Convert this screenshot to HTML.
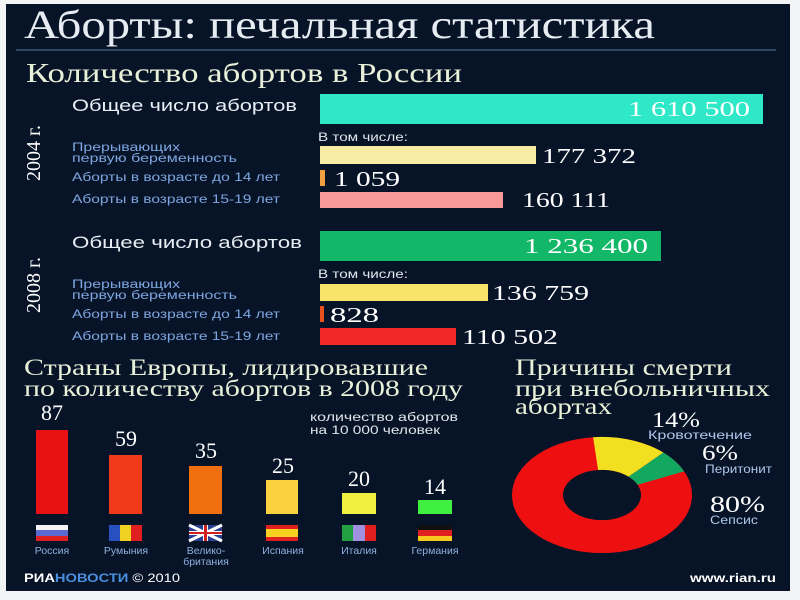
<!DOCTYPE html>
<html><head><meta charset="utf-8"><style>
body{margin:0;background:#fff;}
svg{display:block}
.s{font-family:"Liberation Serif","Noto Serif CJK SC",serif;}
.a{font-family:"Liberation Sans","Noto Sans CJK SC",sans-serif;}
</style></head><body>
<svg width="800" height="600" viewBox="0 0 800 600">
<rect x="0" y="0" width="800" height="600" fill="#f2f4f6"/>
<rect x="6" y="4" width="784" height="587" fill="#071427"/>
<text x="24" y="38" class="s" font-size="40" fill="#e6ecf2" textLength="631" lengthAdjust="spacingAndGlyphs">Аборты: печальная статистика</text>
<line x1="16" y1="50" x2="776" y2="50" stroke="#5a7aa0" stroke-width="1"/>
<text x="26" y="82" class="s" font-size="27" fill="#e8f0d8" textLength="436" lengthAdjust="spacingAndGlyphs">Количество абортов в России</text>

<text transform="translate(40,153) rotate(-90)" text-anchor="middle" class="s" font-size="20" fill="#fff">2004 г.</text>
<text x="72" y="111" class="a" font-size="17" fill="#e8eef4" textLength="225" lengthAdjust="spacingAndGlyphs">Общее число абортов</text>
<rect x="320" y="94" width="443" height="30" fill="#2ee8c8"/>
<text x="628" y="116" class="s" font-size="21" fill="#fff" textLength="122" lengthAdjust="spacingAndGlyphs">1 610 500</text>
<text x="318" y="141" class="a" font-size="11.5" fill="#e0e6ec" textLength="90" lengthAdjust="spacingAndGlyphs">В том числе:</text>
<g class="a" font-size="11.5" fill="#7fa6e0">
<text x="72" y="151" textLength="108" lengthAdjust="spacingAndGlyphs">Прерывающих</text>
<text x="72" y="162" textLength="165" lengthAdjust="spacingAndGlyphs">первую беременность</text>
<text x="72" y="181" textLength="208" lengthAdjust="spacingAndGlyphs">Аборты в возрасте до 14 лет</text>
<text x="72" y="203" textLength="208" lengthAdjust="spacingAndGlyphs">Аборты в возрасте 15-19 лет</text>
</g>
<rect x="320" y="146" width="216" height="18" fill="#f8eca4"/>
<text x="542" y="163" class="s" font-size="21" fill="#fff" textLength="94" lengthAdjust="spacingAndGlyphs">177 372</text>
<rect x="320" y="170" width="5" height="16" fill="#f0a040"/>
<text x="334" y="186" class="s" font-size="21" fill="#fff" textLength="66" lengthAdjust="spacingAndGlyphs">1 059</text>
<rect x="320" y="192" width="183" height="16" fill="#f99a9a"/>
<text x="522" y="207" class="s" font-size="21" fill="#fff" textLength="88" lengthAdjust="spacingAndGlyphs">160 111</text>

<text transform="translate(40,285) rotate(-90)" text-anchor="middle" class="s" font-size="20" fill="#fff">2008 г.</text>
<text x="72" y="248" class="a" font-size="17" fill="#e8eef4" textLength="230" lengthAdjust="spacingAndGlyphs">Общее число  абортов</text>
<rect x="320" y="231" width="341" height="30" fill="#12b868"/>
<text x="524" y="253" class="s" font-size="21" fill="#fff" textLength="124" lengthAdjust="spacingAndGlyphs">1 236 400</text>
<text x="318" y="278" class="a" font-size="11.5" fill="#e0e6ec" textLength="90" lengthAdjust="spacingAndGlyphs">В том числе:</text>
<g class="a" font-size="11.5" fill="#7fa6e0">
<text x="72" y="288" textLength="108" lengthAdjust="spacingAndGlyphs">Прерывающих</text>
<text x="72" y="299" textLength="165" lengthAdjust="spacingAndGlyphs">первую беременность</text>
<text x="72" y="318" textLength="208" lengthAdjust="spacingAndGlyphs">Аборты в возрасте до 14 лет</text>
<text x="72" y="340" textLength="208" lengthAdjust="spacingAndGlyphs">Аборты в возрасте 15-19 лет</text>
</g>
<rect x="320" y="284" width="168" height="17" fill="#f8e468"/>
<text x="492" y="300" class="s" font-size="21" fill="#fff" textLength="97" lengthAdjust="spacingAndGlyphs">136 759</text>
<rect x="320" y="306" width="4" height="16" fill="#e85020"/>
<text x="330" y="322" class="s" font-size="21" fill="#fff" textLength="49" lengthAdjust="spacingAndGlyphs">828</text>
<rect x="320" y="328" width="136" height="17" fill="#f02828"/>
<text x="462" y="344" class="s" font-size="21" fill="#fff" textLength="96" lengthAdjust="spacingAndGlyphs">110 502</text>

<text x="24" y="375" class="s" font-size="23" fill="#e8f0d8" textLength="404" lengthAdjust="spacingAndGlyphs">Страны Европы, лидировавшие</text>
<text x="24" y="396" class="s" font-size="23" fill="#e8f0d8" textLength="439" lengthAdjust="spacingAndGlyphs">по количеству абортов в 2008 году</text>
<text x="310" y="421" class="a" font-size="11.5" fill="#e0e6ec" textLength="148" lengthAdjust="spacingAndGlyphs">количество абортов</text>
<text x="310" y="434" class="a" font-size="11.5" fill="#e0e6ec" textLength="130" lengthAdjust="spacingAndGlyphs">на 10 000 человек</text>
<g class="s" font-size="22" fill="#fff" text-anchor="middle">
<text x="52" y="420">87</text><text x="126" y="446">59</text><text x="206" y="458">35</text>
<text x="283" y="473">25</text><text x="359" y="486">20</text><text x="435" y="494">14</text>
</g>
<rect x="36" y="430" width="32" height="84" fill="#e81010"/>
<rect x="109" y="455" width="33" height="59" fill="#f03a1a"/>
<rect x="189" y="466" width="33" height="48" fill="#f07010"/>
<rect x="266" y="480" width="32" height="34" fill="#f8d040"/>
<rect x="342" y="493" width="34" height="21" fill="#f0f040"/>
<rect x="418" y="500" width="34" height="14" fill="#40f040"/>
<rect x="36" y="525" width="32" height="5" fill="#f4f4f4"/><rect x="36" y="530" width="32" height="6" fill="#5a6ad0"/><rect x="36" y="536" width="32" height="5" fill="#e02020"/>
<rect x="109" y="525" width="11" height="16" fill="#2850c0"/><rect x="120" y="525" width="11" height="16" fill="#f0d020"/><rect x="131" y="525" width="11" height="16" fill="#e02020"/>
<rect x="189" y="525" width="33" height="16" fill="#284090"/><path d="M189 525L222 541M222 525L189 541" stroke="#fff" stroke-width="3"/><rect x="203" y="525" width="5" height="16" fill="#fff"/><rect x="189" y="531" width="33" height="4" fill="#fff"/><rect x="204" y="525" width="3" height="16" fill="#d02020"/><rect x="189" y="532" width="33" height="2" fill="#d02020"/>
<rect x="266" y="525" width="32" height="16" fill="#e02020"/><rect x="266" y="529" width="32" height="8" fill="#f8d020"/>
<rect x="342" y="525" width="11" height="16" fill="#20a040"/><rect x="353" y="525" width="12" height="16" fill="#a090e0"/><rect x="365" y="525" width="11" height="16" fill="#e02020"/>
<rect x="418" y="525" width="34" height="5" fill="#101010"/><rect x="418" y="530" width="34" height="6" fill="#e02020"/><rect x="418" y="536" width="34" height="5" fill="#f8c820"/>
<g class="a" font-size="10.5" fill="#8fb0e0" text-anchor="middle">
<text x="52" y="554">Россия</text><text x="126" y="554">Румыния</text><text x="206" y="554">Велико-</text><text x="206" y="565">британия</text>
<text x="283" y="554">Испания</text><text x="359" y="554">Италия</text><text x="435" y="554">Германия</text>
</g>

<text x="515" y="375" class="s" font-size="23" fill="#e8f0d8" textLength="217" lengthAdjust="spacingAndGlyphs">Причины смерти</text>
<text x="515" y="396" class="s" font-size="23" fill="#e8f0d8" textLength="255" lengthAdjust="spacingAndGlyphs">при внебольничных</text>
<text x="515" y="414" class="s" font-size="23" fill="#e8f0d8" textLength="97" lengthAdjust="spacingAndGlyphs">абортах</text>
<g transform="translate(602,495) scale(1,0.645)">
<circle cx="0" cy="0" r="64.5" fill="none" stroke="#ee1010" stroke-width="51"/>
<path d="M-8.9 -89.6A90 90 0 0 1 61.4 -65.8L26.6 -28.5A39 39 0 0 0 -3.9 -38.8Z" fill="#f2e020"/>
<path d="M61.4 -65.8A90 90 0 0 1 82.2 -36.6L35.6 -15.9A39 39 0 0 0 26.6 -28.5Z" fill="#12a860"/>
</g>
<text x="652" y="427" class="s" font-size="22" fill="#fff" textLength="48" lengthAdjust="spacingAndGlyphs">14%</text>
<text x="648" y="439" class="a" font-size="11.5" fill="#b0c8ec" textLength="104" lengthAdjust="spacingAndGlyphs">Кровотечение</text>
<text x="702" y="460" class="s" font-size="22" fill="#fff" textLength="36" lengthAdjust="spacingAndGlyphs">6%</text>
<text x="705" y="473" class="a" font-size="11.5" fill="#b0c8ec" textLength="67" lengthAdjust="spacingAndGlyphs">Перитонит</text>
<text x="710" y="512" class="s" font-size="23" fill="#fff" textLength="55" lengthAdjust="spacingAndGlyphs">80%</text>
<text x="710" y="524" class="a" font-size="11.5" fill="#b0c8ec" textLength="48" lengthAdjust="spacingAndGlyphs">Сепсис</text>

<text x="24" y="582" class="a" font-size="12" font-weight="bold" fill="#fff" textLength="156" lengthAdjust="spacingAndGlyphs">РИА<tspan fill="#4a90e0">НОВОСТИ</tspan><tspan font-weight="normal"> © 2010</tspan></text>
<text x="690" y="582" class="a" font-size="12" font-weight="bold" fill="#fff" textLength="86" lengthAdjust="spacingAndGlyphs">www.rian.ru</text>
</svg>
</body></html>
